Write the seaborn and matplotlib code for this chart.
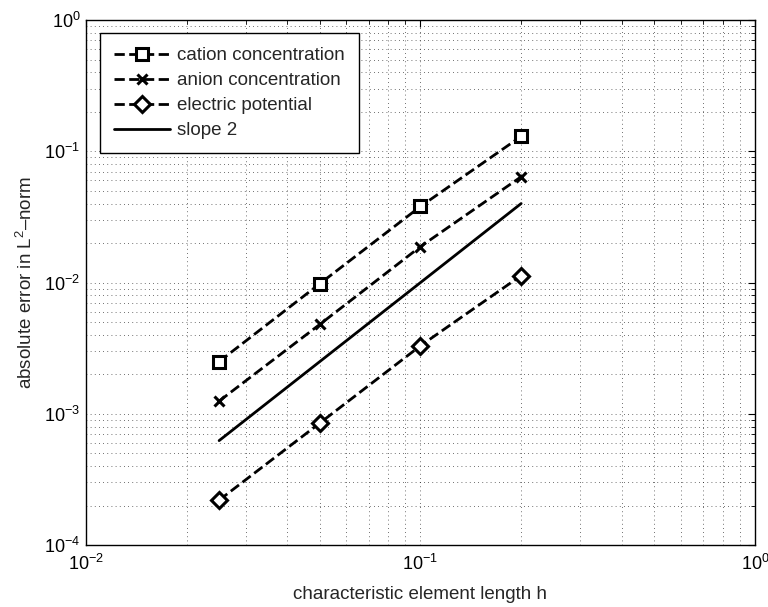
import matplotlib
matplotlib.use("Agg")
import matplotlib.pyplot as plt
import seaborn as sns

# Mesh sizes and measured L2 errors
h = [0.025, 0.05, 0.1, 0.2]
cation_err = [0.0025, 0.0098, 0.038, 0.13]
anion_err = [0.00125, 0.0048, 0.0188, 0.064]
potential_err = [0.00022, 0.00085, 0.0033, 0.0113]
slope2_ref = [0.000625, 0.0025, 0.01, 0.04]

series_labels = ["cation concentration", "anion concentration",
                 "electric potential", "slope 2"]

sns.set_style("white")
plt.rcParams["font.family"] = ["Liberation Sans", "DejaVu Sans"]
plt.rcParams["mathtext.fontset"] = "custom"
plt.rcParams["mathtext.rm"] = "Liberation Sans"
plt.rcParams["mathtext.it"] = "Liberation Sans:italic"

fig = plt.figure(figsize=(7.68, 6.07), dpi=100)
ax = fig.add_axes([0.112, 0.102, 0.871, 0.865])

common = dict(ax=ax, color="k", linewidth=2.0,
              markerfacecolor="white", markeredgecolor="k",
              markeredgewidth=2.2, linestyle="--", dashes=(3.5, 2.8))

sns.lineplot(x=h, y=cation_err, marker="s", markersize=8,
             label=series_labels[0], **common)
sns.lineplot(x=h, y=anion_err, marker="x", markersize=7,
             label=series_labels[1], **common)
sns.lineplot(x=h, y=potential_err, marker="D", markersize=8,
             label=series_labels[2], **common)
sns.lineplot(x=h, y=slope2_ref, color="k", linewidth=2.0,
             label=series_labels[3], ax=ax)

ax.set_xscale("log")
ax.set_yscale("log")
ax.set_xlim(1e-2, 1e0)
ax.set_ylim(1e-4, 1e0)

ax.grid(True, which="both", linestyle=(0, (1, 4)), color="k",
        linewidth=0.6, alpha=0.75)
ax.tick_params(which="both", direction="in", top=True, right=True,
               labelsize=13, colors="k")
ax.tick_params(axis="x", which="both", pad=6)
ax.tick_params(axis="y", which="both", pad=4)
ax.tick_params(which="major", length=5)
ax.tick_params(which="minor", length=3)
for s in ax.spines.values():
    s.set_color("k")
    s.set_linewidth(1.0)

ax.set_xlabel("characteristic element length h", fontsize=13.5, labelpad=9)
ax.set_ylabel("absolute error in L$^{2}$\u2013norm", fontsize=13.5,
              labelpad=6)

leg = ax.legend(loc="upper left", bbox_to_anchor=(0.021, 0.975),
                fontsize=13.5, frameon=True, fancybox=False,
                edgecolor="k", handlelength=3.0, borderpad=0.75,
                labelspacing=0.42, handletextpad=0.35, borderaxespad=0.0)
leg.get_frame().set_linewidth(1.0)
leg.get_frame().set_alpha(1.0)

fig.savefig("out.png", dpi=100)
